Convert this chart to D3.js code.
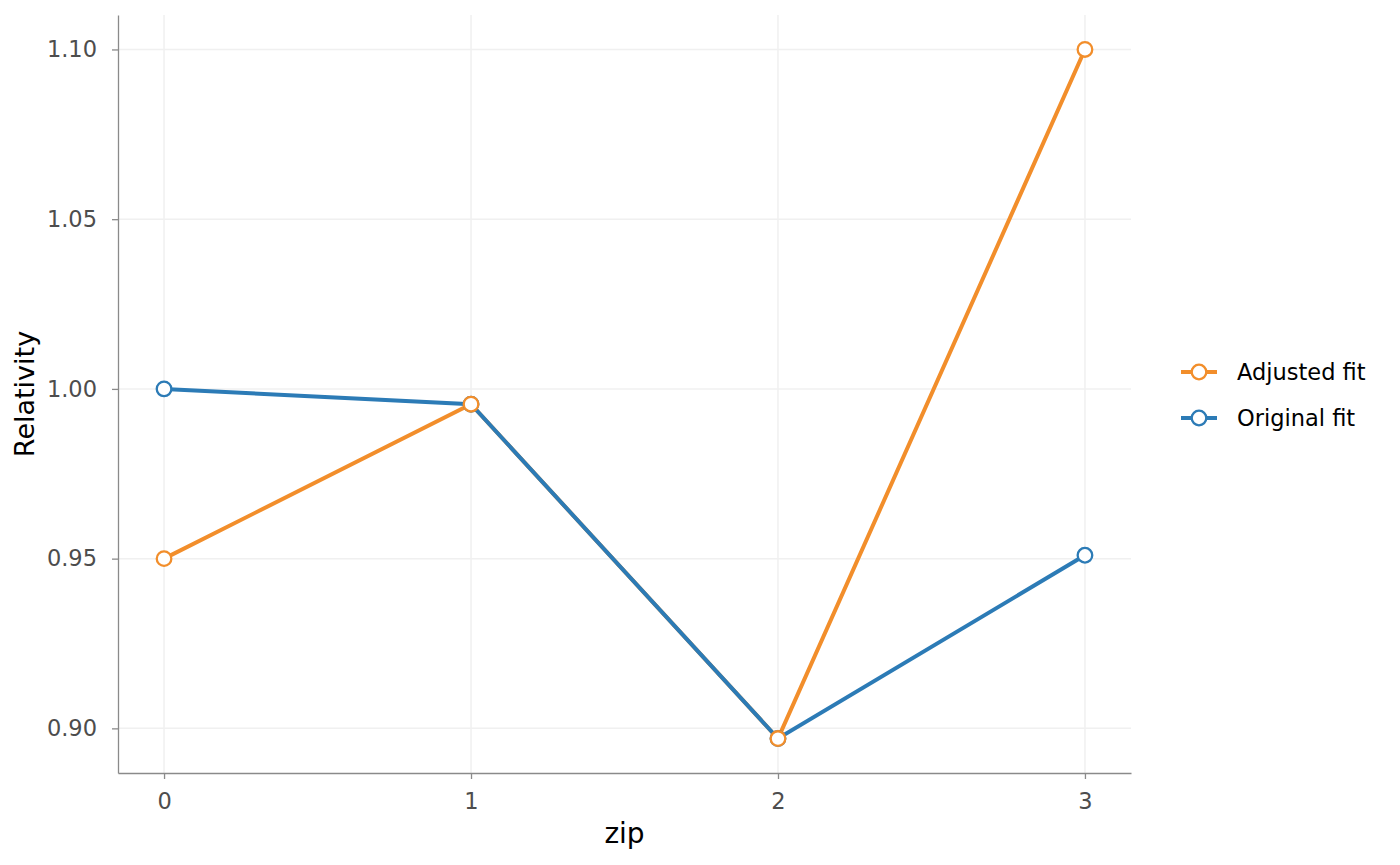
<!DOCTYPE html>
<html>
<head>
<meta charset="utf-8">
<script src="https://cdn.jsdelivr.net/npm/d3@7"></script>
<style>
  body { margin: 0; background: #fff; }
  svg { font-family: "DejaVu Sans", sans-serif; }
</style>
</head>
<body>
<div id="chart"></div>
<script>
var width = 1400;
var height = 865;

// data
var zips = [0, 1, 2, 3];
var originalFit = [1.000, 0.9955, 0.897, 0.951];
var adjustedFit = [0.950, 0.9955, 0.897, 1.100];
var yTicks = [0.90, 0.95, 1.00, 1.05, 1.10];
var seriesNames = ["Adjusted fit", "Original fit"];
var seriesColors = ["#F28E2B", "#2C7BB6"];

var margin = { left: 118, right: 269, top: 15, bottom: 92 };

var svg = d3.select("#chart")
    .append("svg")
    .attr("width", width)
    .attr("height", height);

// ggplot style 5% expansion on both scales
var x = d3.scaleLinear()
    .domain([-0.15, 3.15])
    .range([margin.left, width - margin.right]);

var yMin = 0.897, yMax = 1.10, pad = (yMax - yMin) * 0.05;
var y = d3.scaleLinear()
    .domain([yMin - pad, yMax + pad])
    .range([height - margin.bottom, margin.top]);

// grid
var grid = svg.append("g");
grid.selectAll("line.h")
    .data(yTicks)
    .enter()
    .append("line")
    .attr("x1", x.range()[0]).attr("x2", x.range()[1])
    .attr("y1", function(d) { return y(d); })
    .attr("y2", function(d) { return y(d); })
    .attr("stroke", "#f0f0f0")
    .attr("stroke-width", 1.5);
grid.selectAll("line.v")
    .data(zips)
    .enter()
    .append("line")
    .attr("y1", y.range()[0]).attr("y2", y.range()[1])
    .attr("x1", function(d) { return x(d); })
    .attr("x2", function(d) { return x(d); })
    .attr("stroke", "#f0f0f0")
    .attr("stroke-width", 1.5);

// axes (tickSize first, it also sets the outer size)
var xAxis = svg.append("g")
    .attr("transform", "translate(0," + y.range()[0] + ")")
    .call(d3.axisBottom(x).tickValues(zips).tickFormat(d3.format("d")).tickSize(6).tickSizeOuter(0).tickPadding(14));
var yAxis = svg.append("g")
    .attr("transform", "translate(" + x.range()[0] + ",0)")
    .call(d3.axisLeft(y).tickValues(yTicks).tickFormat(d3.format(".2f")).tickSize(6).tickSizeOuter(0).tickPadding(15));

[xAxis, yAxis].forEach(function(a) {
    a.attr("font-size", null).attr("font-family", null);
    a.select(".domain").attr("stroke", "#8a8a8a").attr("stroke-width", 1.3);
    a.selectAll(".tick line").attr("stroke", "#8a8a8a").attr("stroke-width", 1.3);
    a.selectAll(".tick text")
        .attr("fill", "#4d4d4d")
        .style("font-size", "22.5px");
});

// axis titles
svg.append("text")
    .attr("x", x(1.5))
    .attr("y", 843)
    .attr("text-anchor", "middle")
    .style("font-size", "28px")
    .text("zip");
svg.append("text")
    .attr("transform", "translate(34," + (y.range()[0] + y.range()[1]) / 2 + ") rotate(-90)")
    .attr("text-anchor", "middle")
    .style("font-size", "27px")
    .text("Relativity");

var line = d3.line()
    .x(function(d, i) { return x(zips[i]); })
    .y(function(d) { return y(d); });

// lines: adjusted first, original on top
svg.append("path")
    .datum(adjustedFit)
    .attr("d", line)
    .attr("fill", "none")
    .attr("stroke", seriesColors[0])
    .attr("stroke-width", 4);
svg.append("path")
    .datum(originalFit)
    .attr("d", line)
    .attr("fill", "none")
    .attr("stroke", seriesColors[1])
    .attr("stroke-width", 4);

// points: original first, adjusted on top
[[originalFit, seriesColors[1]], [adjustedFit, seriesColors[0]]].forEach(function(s) {
    svg.append("g").selectAll("circle")
        .data(s[0])
        .enter()
        .append("circle")
        .attr("cx", function(d, i) { return x(zips[i]); })
        .attr("cy", function(d) { return y(d); })
        .attr("r", 7.3)
        .attr("fill", "#fff")
        .attr("stroke", s[1])
        .attr("stroke-width", 2.3);
});

// legend
var legend = svg.append("g");
var items = legend.selectAll("g")
    .data(seriesNames)
    .enter()
    .append("g")
    .attr("transform", function(d, i) { return "translate(1181," + (372 + i * 46) + ")"; });
items.append("line")
    .attr("x1", 0).attr("x2", 36)
    .attr("stroke", function(d, i) { return seriesColors[i]; })
    .attr("stroke-width", 4);
items.append("circle")
    .attr("cx", 18).attr("r", 7.3)
    .attr("fill", "#fff")
    .attr("stroke", function(d, i) { return seriesColors[i]; })
    .attr("stroke-width", 2.3);
items.append("text")
    .attr("x", 56)
    .attr("dy", "0.35em")
    .style("font-size", "22.5px")
    .text(function(d) { return d; });
</script>
</body>
</html>
